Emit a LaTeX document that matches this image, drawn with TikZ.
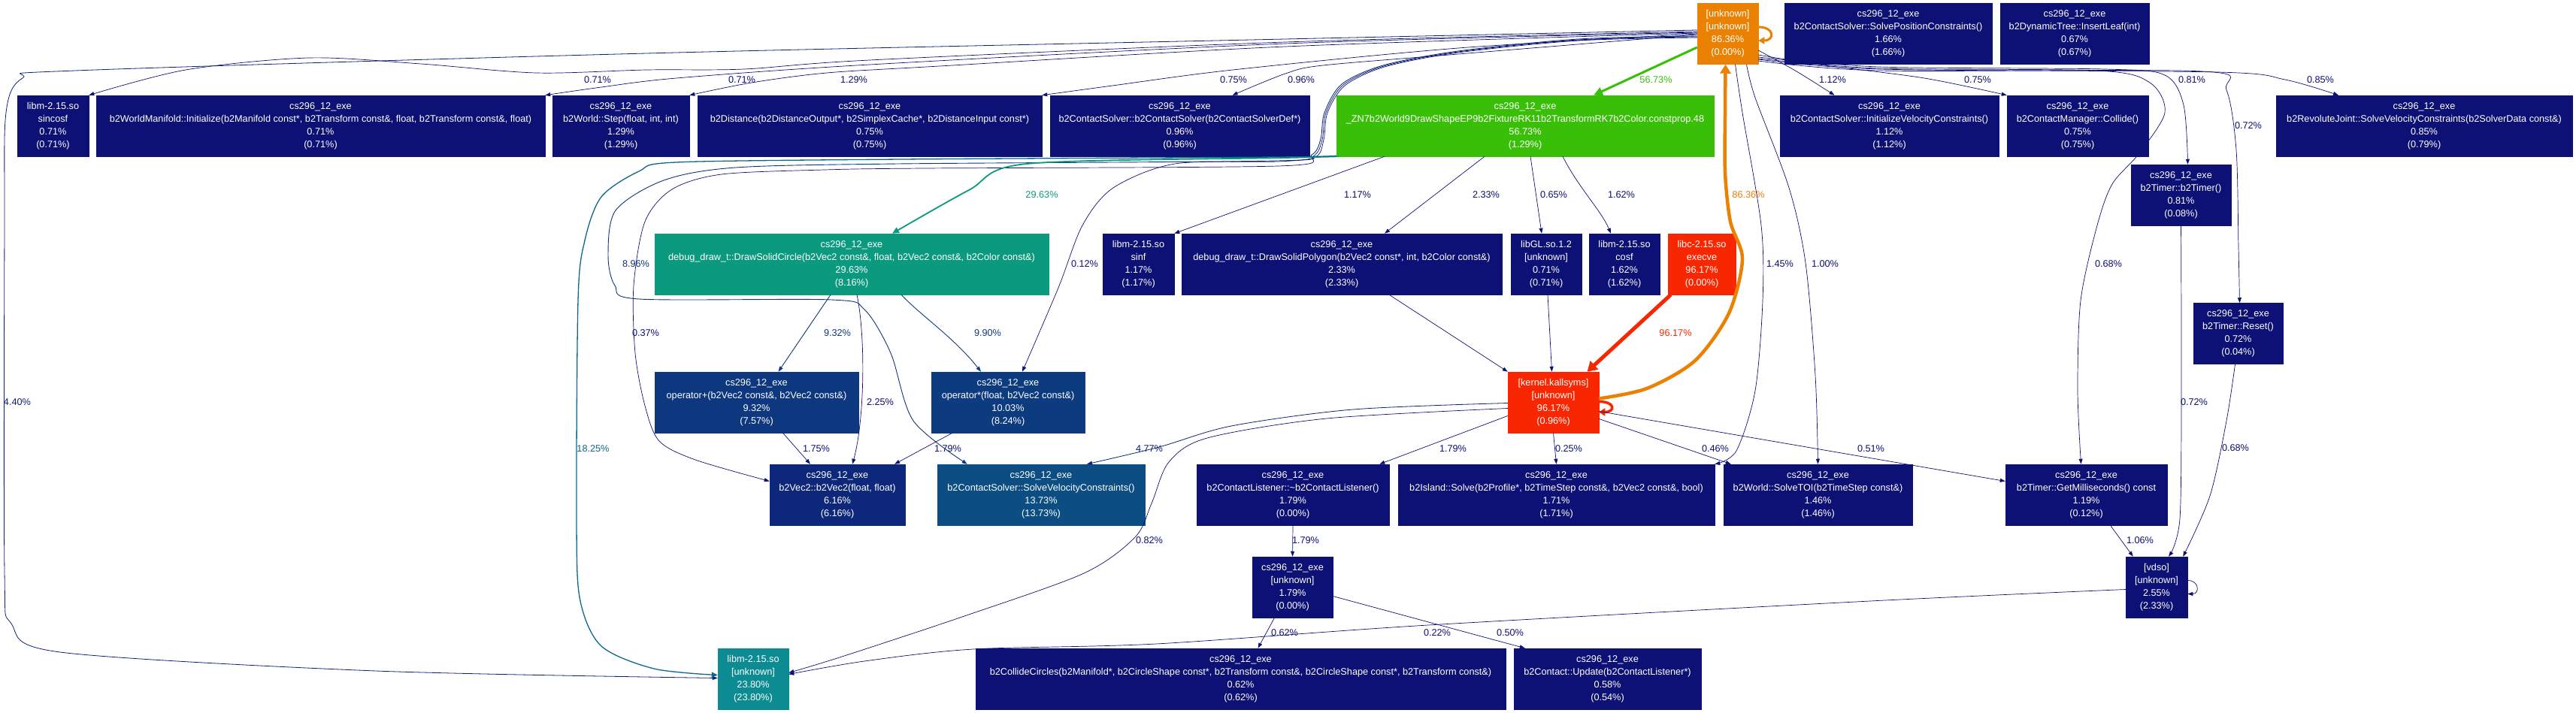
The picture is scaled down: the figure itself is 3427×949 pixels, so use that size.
\documentclass[tikz,border=0pt]{standalone}
\usepackage{fontspec}
\setmainfont{Liberation Sans}
\usetikzlibrary{arrows.meta}
\definecolor{cnavy}{HTML}{0D1074}
\definecolor{corange}{HTML}{EA8103}
\definecolor{cred}{HTML}{F92701}
\definecolor{cgreen}{HTML}{3ABF09}
\definecolor{cteal}{HTML}{0C9A7F}
\definecolor{clibm}{HTML}{0C8B92}
\definecolor{cedgeA}{HTML}{0C688A}
\definecolor{csvc}{HTML}{0C4E84}
\definecolor{copm}{HTML}{0D3B80}
\definecolor{copp}{HTML}{0D377F}
\definecolor{cvec}{HTML}{0D287B}
\definecolor{cedgeB}{HTML}{0D357E}
\definecolor{cedgeC}{HTML}{0D2179}
\definecolor{cedgeD}{HTML}{0D2078}
\definecolor{cedgeE}{HTML}{0D3A80}
\newcommand\nodefnt{\fontsize{12.7pt}{17pt}\selectfont}
\tikzset{
  fnbox/.style={rectangle, fill=#1, draw=#1, line width=0.5pt, text=white,
    align=center, inner sep=0pt, minimum height=81pt, font=\nodefnt},
  fnbox/.default=cnavy,
  elab/.style={text=#1, inner sep=0pt, font=\nodefnt},
  elab/.default=cnavy,
  edg/.style={draw=#1, line width=0.7pt, -{Triangle[length=7pt,width=5pt]}},
  edg/.default=cnavy,
}
\begin{document}
\begin{tikzpicture}[x=1pt,y=-1pt]
\fill[white] (0,0) rectangle (3427,949);
\useasboundingbox (0,0) rectangle (3427,949);

% ---------- nodes ----------
\node[fnbox=corange, minimum width=81pt] (root) at (2298.5,45) {[unknown]\\{}[unknown]\\86.36\%\\(0.00\%)};
\node[fnbox, minimum width=276pt] (solvepos) at (2512,45) {cs296\_12\_exe\\b2ContactSolver::SolvePositionConstraints()\\1.66\%\\(1.66\%)};
\node[fnbox, minimum width=198pt] (insertleaf) at (2760,45) {cs296\_12\_exe\\b2DynamicTree::InsertLeaf(int)\\0.67\%\\(0.67\%)};

\node[fnbox, minimum width=95pt] (sincosf) at (70.5,167.5) {libm-2.15.so\\sincosf\\0.71\%\\(0.71\%)};
\node[fnbox, minimum width=597pt] (manifold) at (426.5,167.5) {cs296\_12\_exe\\b2WorldManifold::Initialize(b2Manifold const*, b2Transform const\&, float, b2Transform const\&, float)\\0.71\%\\(0.71\%)};
\node[fnbox, minimum width=182pt] (step) at (826,167.5) {cs296\_12\_exe\\b2World::Step(float, int, int)\\1.29\%\\(1.29\%)};
\node[fnbox, minimum width=458pt] (distance) at (1157,167.5) {cs296\_12\_exe\\b2Distance(b2DistanceOutput*, b2SimplexCache*, b2DistanceInput const*)\\0.75\%\\(0.75\%)};
\node[fnbox, minimum width=345pt] (ctor) at (1569.5,167.5) {cs296\_12\_exe\\b2ContactSolver::b2ContactSolver(b2ContactSolverDef*)\\0.96\%\\(0.96\%)};
\node[fnbox=cgreen, minimum width=502pt] (drawshape) at (2029,167.5) {cs296\_12\_exe\\\_ZN7b2World9DrawShapeEP9b2FixtureRK11b2TransformRK7b2Color.constprop.48\\56.73\%\\(1.29\%)};
\node[fnbox, minimum width=291pt] (initvel) at (2513.5,167.5) {cs296\_12\_exe\\b2ContactSolver::InitializeVelocityConstraints()\\1.12\%\\(1.12\%)};
\node[fnbox, minimum width=188pt] (collide) at (2764,167.5) {cs296\_12\_exe\\b2ContactManager::Collide()\\0.75\%\\(0.75\%)};
\node[fnbox, minimum width=394pt] (revolute) at (3225,167.5) {cs296\_12\_exe\\b2RevoluteJoint::SolveVelocityConstraints(b2SolverData const\&)\\0.85\%\\(0.79\%)};
\node[fnbox, minimum width=133pt] (b2timer) at (2901.5,259.5) {cs296\_12\_exe\\b2Timer::b2Timer()\\0.81\%\\(0.08\%)};

\node[fnbox=cteal, minimum width=524pt] (circle) at (1133,351.5) {cs296\_12\_exe\\debug\_draw\_t::DrawSolidCircle(b2Vec2 const\&, float, b2Vec2 const\&, b2Color const\&)\\29.63\%\\(8.16\%)};
\node[fnbox, minimum width=95pt] (sinf) at (1514.5,351.5) {libm-2.15.so\\sinf\\1.17\%\\(1.17\%)};
\node[fnbox, minimum width=426pt] (polygon) at (1785,351.5) {cs296\_12\_exe\\debug\_draw\_t::DrawSolidPolygon(b2Vec2 const*, int, b2Color const\&)\\2.33\%\\(2.33\%)};
\node[fnbox, minimum width=94pt] (libgl) at (2057,351.5) {libGL.so.1.2\\{}[unknown]\\0.71\%\\(0.71\%)};
\node[fnbox, minimum width=94pt] (cosf) at (2161,351.5) {libm-2.15.so\\cosf\\1.62\%\\(1.62\%)};
\node[fnbox=cred, minimum width=90pt] (execve) at (2264,351.5) {libc-2.15.so\\execve\\96.17\%\\(0.00\%)};
\node[fnbox, minimum width=119pt] (reset) at (2977.5,444) {cs296\_12\_exe\\b2Timer::Reset()\\0.72\%\\(0.04\%)};

\node[fnbox=copp, minimum width=271pt] (opplus) at (1006.5,535.5) {cs296\_12\_exe\\operator+(b2Vec2 const\&, b2Vec2 const\&)\\9.32\%\\(7.57\%)};
\node[fnbox=copm, minimum width=204pt] (optimes) at (1341,535.5) {cs296\_12\_exe\\operator*(float, b2Vec2 const\&)\\10.03\%\\(8.24\%)};
\node[fnbox=cred, minimum width=121pt] (kernel) at (2066.5,535.5) {[kernel.kallsyms]\\{}[unknown]\\96.17\%\\(0.96\%)};

\node[fnbox=cvec, minimum width=180pt] (vec2) at (1114,658.5) {cs296\_12\_exe\\b2Vec2::b2Vec2(float, float)\\6.16\%\\(6.16\%)};
\node[fnbox=csvc, minimum width=276pt] (solvevel) at (1385,658.5) {cs296\_12\_exe\\b2ContactSolver::SolveVelocityConstraints()\\13.73\%\\(13.73\%)};
\node[fnbox, minimum width=256pt] (listener) at (1720,658.5) {cs296\_12\_exe\\b2ContactListener::\textasciitilde b2ContactListener()\\1.79\%\\(0.00\%)};
\node[fnbox, minimum width=421pt] (island) at (2070.5,658.5) {cs296\_12\_exe\\b2Island::Solve(b2Profile*, b2TimeStep const\&, b2Vec2 const\&, bool)\\1.71\%\\(1.71\%)};
\node[fnbox, minimum width=251pt] (solvetoi) at (2418.5,658.5) {cs296\_12\_exe\\b2World::SolveTOI(b2TimeStep const\&)\\1.46\%\\(1.46\%)};
\node[fnbox, minimum width=215pt] (getms) at (2775.5,658.5) {cs296\_12\_exe\\b2Timer::GetMilliseconds() const\\1.19\%\\(0.12\%)};

\node[fnbox, minimum width=107pt] (unk179) at (1719.5,781.5) {cs296\_12\_exe\\{}[unknown]\\1.79\%\\(0.00\%)};
\node[fnbox, minimum width=82pt] (vdso) at (2869,781.5) {[vdso]\\{}[unknown]\\2.55\%\\(2.33\%)};

\node[fnbox=clibm, minimum width=94pt] (libmunk) at (1002,903.5) {libm-2.15.so\\{}[unknown]\\23.80\%\\(23.80\%)};
\node[fnbox, minimum width=705pt] (collidecircles) at (1650.5,903.5) {cs296\_12\_exe\\b2CollideCircles(b2Manifold*, b2CircleShape const*, b2Transform const\&, b2CircleShape const*, b2Transform const\&)\\0.62\%\\(0.62\%)};
\node[fnbox, minimum width=249pt] (update) at (2138.5,903.5) {cs296\_12\_exe\\b2Contact::Update(b2ContactListener*)\\0.58\%\\(0.54\%)};

% ---------- edges from root (left fan) ----------
\draw[edg] plot[smooth,tension=0.5] coordinates {([yshift=3pt]root.west) (1710,56) (1157,80) (990,92) (860,93) (713,97) (560,85) (411,77) (247,93) (sincosf.north east)};
\draw[edg] plot[smooth,tension=0.5] coordinates {([yshift=2pt]root.west) (1710,58) (1157,86) (900,104) (800,116) (manifold.north east)};
\draw[edg] plot[smooth,tension=0.5] coordinates {([yshift=1pt]root.west) (1710,62) (1250,88) (1100,97) (1000,110) (step.north east)};
\draw[edg] plot[smooth,tension=0.5] coordinates {(root.west) (1940,64) (1640,93) (1480,114) (distance.north east)};
\draw[edg] plot[smooth,tension=0.5] coordinates {([yshift=-1pt]root.west) (1940,72) (1760,87) (1710,98) ([xshift=70pt]ctor.north)};
\draw[edg=cgreen, line width=3pt, -{Triangle[length=12pt,width=11pt]}] ([yshift=-18pt]root.west) -- ([xshift=91pt]drawshape.north);
\draw[edg=cedgeD, line width=0.8pt] plot[smooth,tension=0.5] coordinates {([yshift=5pt]root.west) (1710,52) (860,71) (100,94) (30,104) (8,150) (6,300) (6,760) (15,830) (80,868) (500,893) ([yshift=1pt]libmunk.west)};
\draw[edg=cedgeB, line width=0.9pt] plot[smooth,tension=0.5] coordinates {([yshift=-3pt]root.west) (2100,52) (1940,68) (1840,87) (1785,112) (1762,150) (1757,185) (1745,206) (1700,214) (1195,218) (979,223) (883,240) (819,280) (809,340) (818,380) (850,398) (1106,399) (1150,412) (1185,470) (1215,560) ([xshift=40pt]solvevel.north west)};
\draw[edg] plot[smooth,tension=0.5] coordinates {([yshift=-4pt]root.west) (2100,53) (1940,69) (1841,88) (1787,113) (1764,150) (1759,186) (1747,208) (1700,221) (1230,224) (1097,226) (960,232) (894,252) (858,295) (843,380) (845,470) (858,540) (877,587) (925,612) ([yshift=18pt]vec2.west)};
\draw[edg] plot[smooth,tension=0.5] coordinates {([yshift=-5pt]root.west) (2100,54) (1940,70) (1842,89) (1789,114) (1766,150) (1761,186) (1750,209) (1700,215) (1563,218) (1481,250) (1440,300) (1408,383) ([xshift=19pt]optimes.north)};

% ---------- edges from root (right / down) ----------
\draw[edg] plot[smooth,tension=0.5] coordinates {([yshift=-22pt]root.east) (2390,95) ([xshift=-73pt]initvel.north)};
\draw[edg] plot[smooth,tension=0.5] coordinates {([yshift=-28pt]root.east) (2420,86) (2560,104) (collide.north west)};
\draw[edg] plot[smooth,tension=0.5] coordinates {([yshift=-31pt]root.east) (2500,89) (2800,92) (2880,100) (2905,140) ([xshift=9pt]b2timer.north)};
\draw[edg] plot[smooth,tension=0.5] coordinates {([yshift=-34pt]root.east) (2500,92) (2950,96) (3040,106) ([xshift=-114pt]revolute.north)};
\draw[edg] plot[smooth,tension=0.5] coordinates {([yshift=-36pt]root.east) (2500,94) (2930,95) (2962,120) (2975,200) (2978,330) ([xshift=2pt]reset.north)};
\draw[edg] plot[smooth,tension=0.5] coordinates {([yshift=-33pt]root.east) (2500,91) (2790,94) (2860,110) (2880,150) (2845,205) (2810,245) (2790,300) (2768,400) (2764,520) ([xshift=-7pt]getms.north)};
\draw[edg] plot[smooth,tension=0.5] coordinates {([xshift=10pt]root.south) (2318,150) (2343,300) (2345,400) (2335,520) (2310,600) (island.north east)};
\draw[edg] plot[smooth,tension=0.5] coordinates {([xshift=25pt]root.south) (2335,130) (2380,250) (2402,350) (2415,500) (solvetoi.north)};
\draw[edg=corange, line width=3pt, -{Triangle[length=8pt,width=9pt]}] ([yshift=9pt]root.east) .. controls ([xshift=22pt,yshift=9pt]root.east) and ([xshift=22pt,yshift=-9pt]root.east) .. ([yshift=-9pt]root.east);
\draw[edg=corange, line width=4.5pt, -{Triangle[length=12pt,width=14pt]}] plot[smooth,tension=0.5] coordinates {([yshift=5pt]kernel.east) (2191,517) (2255,480) (2300,417) (2318,345) (2302,295) (2295,230) (2295,150) ([xshift=-3pt]root.south)};

% ---------- edges from DrawShape ----------
\draw[edg=cteal, line width=1.8pt, -{Triangle[length=9pt,width=8pt]}] plot[smooth,tension=0.5] coordinates {([xshift=3pt]drawshape.south west) (1710,210) (1366,218) (1289,253) ([xshift=54pt]circle.north)};
\draw[edg=cedgeA, line width=1.3pt, -{Triangle[length=8pt,width=7pt]}] plot[smooth,tension=0.5] coordinates {([yshift=1pt]drawshape.south west) (1700,209) (1200,212) (900,216) (850,228) (800,262) (778,320) (769,400) (767,700) (772,800) (800,860) (870,890) ([yshift=5pt]libmunk.west)};
\draw[edg] ([xshift=-187pt]drawshape.south) -- (sinf.north east);
\draw[edg] ([xshift=-54pt]drawshape.south) -- ([xshift=57pt]polygon.north);
\draw[edg] ([xshift=7pt]drawshape.south) -- ([xshift=-6pt]libgl.north);
\draw[edg] ([xshift=50pt]drawshape.south) .. controls (2100,250) and (2130,280) .. ([xshift=-18pt]cosf.north);

% ---------- DrawSolidCircle and operators ----------
\draw[edg=copp, line width=0.9pt] ([xshift=-28pt]circle.south) -- ([xshift=29pt]opplus.north);
\draw[edg=cedgeE, line width=0.9pt] ([xshift=66pt]circle.south) .. controls (1225,420) and (1270,450) .. ([xshift=-36pt]optimes.north);
\draw[edg] ([xshift=7pt]circle.south) .. controls (1152,450) and (1150,560) .. ([xshift=20pt]vec2.north);
\draw[edg] ([xshift=35pt]opplus.south) -- ([xshift=-36pt]vec2.north);
\draw[edg] ([xshift=-74pt]optimes.south) -- ([xshift=76pt]vec2.north);

% ---------- into kernel ----------
\draw[edg] ([xshift=63pt]polygon.south) -- (kernel.north west);
\draw[edg] ([xshift=2pt]libgl.south) -- ([xshift=-2pt]kernel.north);
\draw[edg=cred, line width=5pt, -{Triangle[length=13pt,width=15pt]}] ([xshift=4pt]execve.south west) -- ([xshift=45pt]kernel.north);
\draw[edg=cred, line width=3.5pt, -{Triangle[length=8pt,width=10pt]}] ([yshift=1pt]kernel.east) .. controls ([xshift=22pt,yshift=1pt]kernel.east) and ([xshift=22pt,yshift=-13pt]kernel.east) .. ([yshift=-13pt]kernel.east);

% ---------- from kernel ----------
\draw[edg=cedgeC, line width=0.8pt] plot[smooth,tension=0.5] coordinates {([yshift=-1pt]kernel.west) (1800,545) (1638,567) (1542,595) ([xshift=61pt]solvevel.north)};
\draw[edg] ([yshift=-18pt]kernel.west) -- ([xshift=-13pt]listener.north east);
\draw[edg] (kernel.south) -- (island.north);
\draw[edg] ([yshift=-22pt]kernel.east) -- ([xshift=10pt]solvetoi.north west);
\draw[edg] ([yshift=-12pt]kernel.east) -- ([yshift=18pt]getms.west);
\draw[edg] plot[smooth,tension=0.5] coordinates {([yshift=-8pt]kernel.west) (1765,557) (1606,583) (1555,615) (1532,670) (1510,715) (1442,763) (1283,820) (1120,874) ([yshift=8pt]libmunk.east)};

% ---------- lower edges ----------
\draw[edg] (listener.south) -- (unk179.north);
\draw[edg] ([xshift=-24pt]unk179.south) -- ([xshift=23pt]collidecircles.north);
\draw[edg] ([yshift=-12pt]unk179.east) -- ([xshift=15pt]update.north west);
\draw[edg] ([xshift=32pt]getms.south) -- ([xshift=10pt]vdso.north west);
\draw[edg] plot[smooth,tension=0.5] coordinates {(b2timer.south) (2902,500) (2900,690) ([xshift=16pt]vdso.north)};
\draw[edg] plot[smooth,tension=0.5] coordinates {([xshift=-4pt]reset.south) (2962,560) (2940,660) ([xshift=-6pt]vdso.north east)};
\draw[edg] ([yshift=9pt]vdso.east) .. controls ([xshift=16pt,yshift=9pt]vdso.east) and ([xshift=16pt,yshift=-9pt]vdso.east) .. ([yshift=-9pt]vdso.east);
\draw[edg] plot[smooth,tension=0.5] coordinates {([yshift=-3pt]vdso.west) (2488,800) (1900,832) (1538,857) (1295,864) (1150,880) ([yshift=6pt]libmunk.east)};

% ---------- edge labels ----------
\node[elab] (l1) at (987,106) {0.71\%};
\node[elab] (l2) at (795,106) {0.71\%};
\node[elab] (l3) at (1136,106) {1.29\%};
\node[elab] (l4) at (1641,106) {0.75\%};
\node[elab] (l5) at (1731,106) {0.96\%};
\node[elab=cgreen] (l6) at (2203,106) {56.73\%};
\node[elab] (l7) at (2438,106) {1.12\%};
\node[elab] (l8) at (2631,106) {0.75\%};
\node[elab] (l9) at (2916,106) {0.81\%};
\node[elab] (l10) at (3087,106) {0.85\%};
\node[elab] (l11) at (2991,167) {0.72\%};
\node[elab] (l12) at (2805,351) {0.68\%};
\node[elab] (l13) at (2368,351) {1.45\%};
\node[elab] (l14) at (2428,351) {1.00\%};
\node[elab=cedgeD] (l15) at (23,535) {4.40\%};
\node[elab=cedgeB] (l16) at (846,351) {8.96\%};
\node[elab] (l17) at (859,443) {0.37\%};
\node[elab] (l18) at (1443,351) {0.12\%};
\node[elab=corange] (l20) at (2326,259) {86.36\%};
\node[elab=cteal] (l21) at (1386,259) {29.63\%};
\node[elab] (l22) at (1806,259) {1.17\%};
\node[elab] (l23) at (1977,259) {2.33\%};
\node[elab] (l24) at (2067,259) {0.65\%};
\node[elab] (l25) at (2157,259) {1.62\%};
\node[elab=cedgeA] (l26) at (789,597) {18.25\%};
\node[elab=copp] (l27) at (1114,443) {9.32\%};
\node[elab=cedgeE] (l28) at (1314,443) {9.90\%};
\node[elab] (l29) at (1171,535) {2.25\%};
\node[elab] (l30) at (1086,597) {1.75\%};
\node[elab] (l31) at (1261,597) {1.79\%};
\node[elab=cred] (l34) at (2229,443) {96.17\%};
\node[elab=cedgeC] (l36) at (1529,597) {4.77\%};
\node[elab] (l37) at (1933,597) {1.79\%};
\node[elab] (l38) at (2087,597) {0.25\%};
\node[elab] (l39) at (2282,597) {0.46\%};
\node[elab] (l40) at (2489,597) {0.51\%};
\node[elab] (l41) at (1529,719) {0.82\%};
\node[elab] (l42) at (1737,719) {1.79\%};
\node[elab] (l43) at (1709,842) {0.62\%};
\node[elab] (l44) at (2009,842) {0.50\%};
\node[elab] (l45) at (2847,719) {1.06\%};
\node[elab] (l46) at (2919,535) {0.72\%};
\node[elab] (l47) at (2974,596) {0.68\%};
\node[elab] (l49) at (1912,842) {0.22\%};
\end{tikzpicture}
\end{document}
